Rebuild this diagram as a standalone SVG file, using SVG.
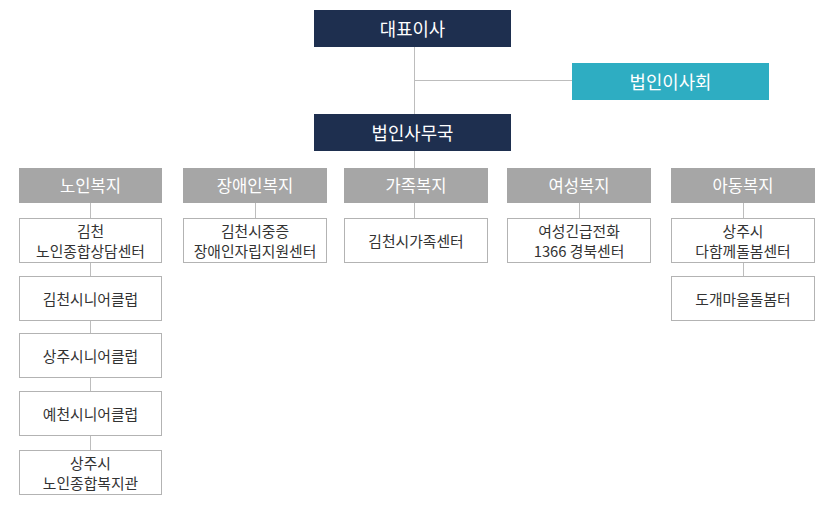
<svg xmlns="http://www.w3.org/2000/svg" width="840" height="508" viewBox="0 0 840 508">
<style>
text{font-family:"Noto Sans CJK KR","Noto Sans",sans-serif;text-anchor:middle;dominant-baseline:central}
.top{fill:#1e2f4f}
.teal{fill:#2eadc2}
.hd{fill:#a6a6a6}
.bx{fill:#fff;stroke:#b3b3b3;stroke-width:1}
.tw{fill:#fff;font-size:17.8px}
.th{fill:#fff;font-size:16.6px}
.tb{fill:#333;font-size:14.8px}
.ln{stroke:#bdbdbd;stroke-width:1;fill:none}
</style>
<rect width="840" height="508" fill="#fff"/>
<g id="connectors">
<path class="ln" d="M414.5 47V114M414.5 80.5H572M414.5 151V168"/>
<path class="ln" d="M90.5 203V218M90.5 263V276M90.5 321V333M90.5 378V391M90.5 436V450"/>
<path class="ln" d="M255.5 203V218"/>
<path class="ln" d="M414.5 203V218"/>
<path class="ln" d="M579.5 203V218"/>
<path class="ln" d="M743.5 203V218M743.5 263V276"/>
</g>
<g id="ceo"><rect class="top" x="314" y="10" width="197" height="37"/><text class="tw" x="412.5" y="28">대표이사</text></g>
<g id="board"><rect class="teal" x="572" y="63" width="197" height="37"/><text class="tw" x="670.5" y="81">법인이사회</text></g>
<g id="office"><rect class="top" x="314" y="114" width="197" height="37"/><text class="tw" x="412.5" y="132">법인사무국</text></g>

<g id="h1"><rect class="hd" x="19" y="168" width="143" height="35"/><text class="th" x="90.5" y="185">노인복지</text></g>
<g id="h2"><rect class="hd" x="183" y="168" width="144" height="35"/><text class="th" x="255" y="185">장애인복지</text></g>
<g id="h3"><rect class="hd" x="344" y="168" width="144" height="35"/><text class="th" x="416" y="185">가족복지</text></g>
<g id="h4"><rect class="hd" x="507" y="168" width="144" height="35"/><text class="th" x="579" y="185">여성복지</text></g>
<g id="h5"><rect class="hd" x="671" y="168" width="144" height="35"/><text class="th" x="743" y="185">아동복지</text></g>

<g id="b1a"><rect class="bx" x="19.5" y="218.5" width="142" height="44"/><text class="tb" x="90.5" y="230.5">김천</text><text class="tb" x="90.5" y="250">노인종합상담센터</text></g>
<g id="b1b"><rect class="bx" x="19.5" y="276.5" width="142" height="44"/><text class="tb" x="90.5" y="298">김천시니어클럽</text></g>
<g id="b1c"><rect class="bx" x="19.5" y="333.5" width="142" height="44"/><text class="tb" x="90.5" y="355">상주시니어클럽</text></g>
<g id="b1d"><rect class="bx" x="19.5" y="391.5" width="142" height="44"/><text class="tb" x="90.5" y="413">예천시니어클럽</text></g>
<g id="b1e"><rect class="bx" x="19.5" y="450.5" width="142" height="44"/><text class="tb" x="90.5" y="462.5">상주시</text><text class="tb" x="90.5" y="482">노인종합복지관</text></g>

<g id="b2a"><rect class="bx" x="183.5" y="218.5" width="143" height="44"/><text class="tb" x="255" y="230.5">김천시중증</text><text class="tb" x="255" y="250">장애인자립지원센터</text></g>
<g id="b3a"><rect class="bx" x="344.5" y="218.5" width="143" height="44"/><text class="tb" x="416" y="240">김천시가족센터</text></g>
<g id="b4a"><rect class="bx" x="507.5" y="218.5" width="143" height="44"/><text class="tb" x="579" y="230.5">여성긴급전화</text><text class="tb" x="579" y="250">1366 경북센터</text></g>
<g id="b5a"><rect class="bx" x="671.5" y="218.5" width="143" height="44"/><text class="tb" x="743" y="230.5">상주시</text><text class="tb" x="743" y="250">다함께돌봄센터</text></g>
<g id="b5b"><rect class="bx" x="671.5" y="276.5" width="143" height="44"/><text class="tb" x="743" y="298">도개마을돌봄터</text></g>
</svg>
